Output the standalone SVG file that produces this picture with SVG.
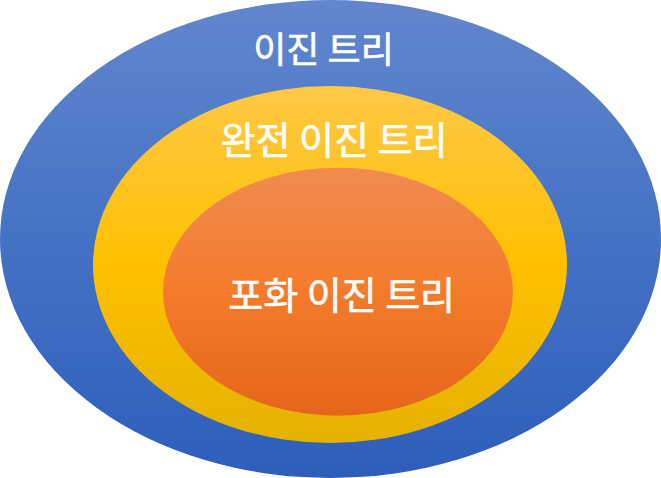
<svg xmlns="http://www.w3.org/2000/svg" width="661" height="478" viewBox="0 0 661 478">
  <defs>
    <linearGradient id="gBlue" x1="0" y1="0" x2="0" y2="1">
      <stop offset="0" stop-color="#6286CE"/>
      <stop offset="0.5" stop-color="#4472C4"/>
      <stop offset="1" stop-color="#2E5EBB"/>
    </linearGradient>
    <linearGradient id="gYellow" x1="0" y1="0" x2="0" y2="1">
      <stop offset="0" stop-color="#FFC846"/>
      <stop offset="0.5" stop-color="#FFC000"/>
      <stop offset="1" stop-color="#E4B200"/>
    </linearGradient>
    <linearGradient id="gOrange" x1="0" y1="0" x2="0" y2="1">
      <stop offset="0" stop-color="#F08B51"/>
      <stop offset="0.5" stop-color="#F47B2B"/>
      <stop offset="1" stop-color="#E5661A"/>
    </linearGradient>
  </defs>
  <style>
    text { font-family: "Noto Sans CJK KR", "Noto Sans", sans-serif; fill: #FFFFFF; stroke: #FFFFFF; stroke-width: 0.6; text-anchor: middle; }
  </style>
  <g id="binary-tree">
    <ellipse cx="330.5" cy="239" rx="330.5" ry="239" fill="url(#gBlue)"/>
    <text x="323.5" y="63" font-size="36">이진 트리</text>
  </g>
  <g id="complete-binary-tree">
    <ellipse cx="330" cy="264.5" rx="237" ry="178.5" fill="url(#gYellow)"/>
    <text x="334" y="154" font-size="38">완전 이진 트리</text>
  </g>
  <g id="perfect-binary-tree">
    <ellipse cx="338" cy="291.7" rx="175" ry="124" fill="url(#gOrange)"/>
    <text x="341.7" y="309" font-size="38">포화 이진 트리</text>
  </g>
  <g id="connectors"/>
</svg>
